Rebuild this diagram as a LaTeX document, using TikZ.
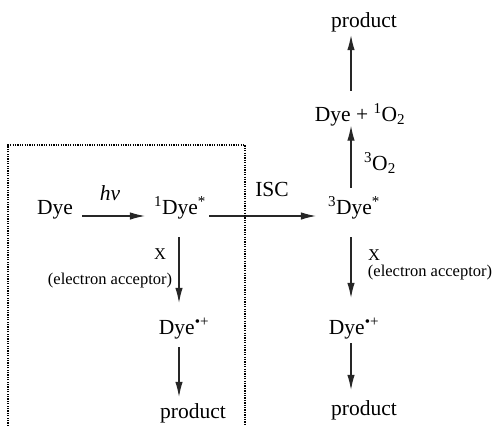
\documentclass[tikz,border=0pt]{standalone}
\usepackage{fontspec}
\setmainfont{Liberation Serif}
\usetikzlibrary{arrows.meta}
\tikzset{
  chem/.style={font=\fontsize{21.5}{26}\selectfont, inner sep=0pt, text height=15pt, text depth=4.5pt, anchor=base},
  lbl/.style={font=\fontsize{16.5}{20}\selectfont, inner sep=0pt, anchor=base},
  rxn/.style={draw=black!85, line width=1.1pt, -{Latex[length=15pt,width=7.5pt]}},
  frame/.style={line width=1.3pt, dash pattern=on 1.3pt off 1.1pt}
}
\begin{document}
\begin{tikzpicture}[x=1pt,y=-1pt]
  \useasboundingbox (0,0) rectangle (496,426);

  % species
  \node[chem] (dye)  at (55,214)  {Dye};
  \node[chem] (s1)   at (180,214) {\textsuperscript{1}Dye\textsuperscript{*}};
  \node[chem] (t3)   at (354,214) {\textsuperscript{3}Dye\textsuperscript{*}};
  \node[chem] (dyeo) at (360,121) {Dye + \textsuperscript{1}O\textsubscript{2}};
  \node[chem] (ptop) at (364,27)  {product};
  \node[chem] (r1)   at (184,334) {Dye\textsuperscript{•+}};
  \node[chem] (r2)   at (354,334) {Dye\textsuperscript{•+}};
  \node[chem] (p1)   at (193,418) {product};
  \node[chem] (p2)   at (364,415) {product};

  % reaction labels
  \node[chem] (hv)  at (110,200) {\textit{hν}};
  \node[chem] (isc) at (272,196) {ISC};
  \node[chem] (o2)  at (380,170) {\textsuperscript{3}O\textsubscript{2}};
  \node[lbl]  (x1)  at (160,259) {X};
  \node[lbl]  (ea1) at (110,284) {(electron acceptor)};
  \node[lbl]  (x2)  at (374,260) {X};
  \node[lbl]  (ea2) at (430,276) {(electron acceptor)};

  % horizontal steps
  \draw[rxn] ([xshift=9pt,yshift=-2pt]dye.base east) -- ([xshift=-9pt,yshift=-2pt]s1.base west);
  \draw[rxn] ([xshift=3pt,yshift=-2pt]s1.base east) -- ([xshift=-12pt,yshift=-2pt]t3.base west);

  % singlet branch
  \draw[rxn] ([xshift=-1pt,yshift=-18.5pt]s1.south) -- ([xshift=-1pt,yshift=16pt]s1.south |- r1.north);
  \draw[rxn] ([xshift=-1pt,yshift=-8.5pt]s1.south |- r1.south) -- ([xshift=-1pt,yshift=6pt]s1.south |- p1.north);

  % triplet branch, downwards
  \draw[rxn] ([xshift=-3pt,yshift=-18.5pt]t3.south) -- ([xshift=-3pt,yshift=21pt]t3.south |- r2.north);
  \draw[rxn] ([xshift=-3pt,yshift=-4.5pt]t3.south |- r2.south) -- ([xshift=-3pt,yshift=10pt]t3.south |- p2.north);

  % triplet branch, upwards
  \draw[rxn] ([xshift=-3pt,yshift=11pt]t3.north) -- ([xshift=-3pt]t3.north |- dyeo.south);
  \draw[rxn] ([xshift=-3pt,yshift=15pt]t3.north |- dyeo.north) -- ([xshift=-3pt,yshift=-3.5pt]t3.north |- ptop.south);

  % dotted frame round the singlet pathway
  \draw[frame] (8,426) |- (245,145) -- (245,426);
\end{tikzpicture}
\end{document}
